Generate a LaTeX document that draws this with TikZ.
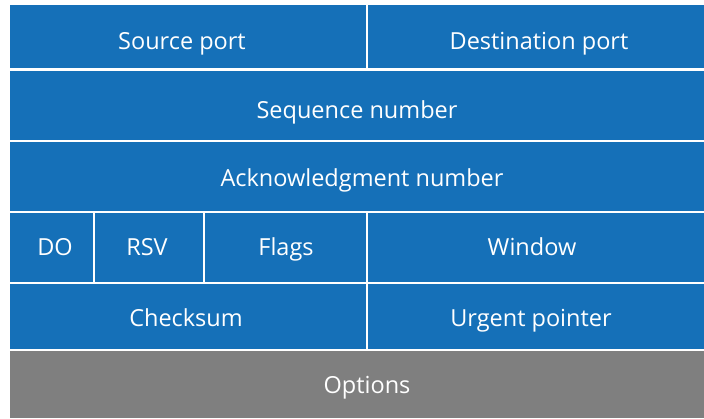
\documentclass[tikz,border=0pt]{standalone}
\usepackage{fontspec}
\setmainfont{Open Sans}
\definecolor{fieldblue}{HTML}{1570B8}
\definecolor{optgray}{HTML}{7F7F7F}
\tikzset{
  field/.style={fill=fieldblue},
  label/.style={text=white,anchor=base,inner sep=0pt,font=\fontsize{23.5}{28}\selectfont}
}
\begin{document}
\begin{tikzpicture}[x=1pt,y=-1pt]
        \useasboundingbox (0,0) rectangle (704,418);
        \fill[white] (0,0) rectangle (704,418);

        \begin{scope}[every path/.style={field}]
          \fill (10,5)      rectangle (366,68);
          \fill (368,5)     rectangle (704,68);
          \fill (10,70.5)   rectangle (704,139.5);
          \fill (10,141.5)  rectangle (704,210.5);
          \fill (10,212.5)  rectangle (93,281.5);
          \fill (95,212.5)  rectangle (203,281.5);
          \fill (205,212.5) rectangle (366,281.5);
          \fill (368,212.5) rectangle (704,281.5);
          \fill (10,283.5)  rectangle (366,348.5);
          \fill (368,283.5) rectangle (704,348.5);
        \end{scope}
        \fill[optgray] (10,350.5) rectangle (704,418);

        \begin{scope}[every node/.style={label}]
          \node (src)  at (182,49)  {Source port};
          \node (dst)  at (539,49)  {Destination port};
          \node (seq)  at (357,118) {Sequence number};
          \node (ack)  at (362,186) {Acknowledgment number};
          \node (do)   at (55,255)  {DO};
          \node (rsv)  at (147,255) {RSV};
          \node (flag) at (286,255) {Flags};
          \node (win)  at (532,255) {Window};
          \node (chk)  at (186,326) {Checksum};
          \node (urg)  at (531,326) {Urgent pointer};
          \node (opt)  at (367,393) {Options};
        \end{scope}

      \end{tikzpicture}
\end{document}
